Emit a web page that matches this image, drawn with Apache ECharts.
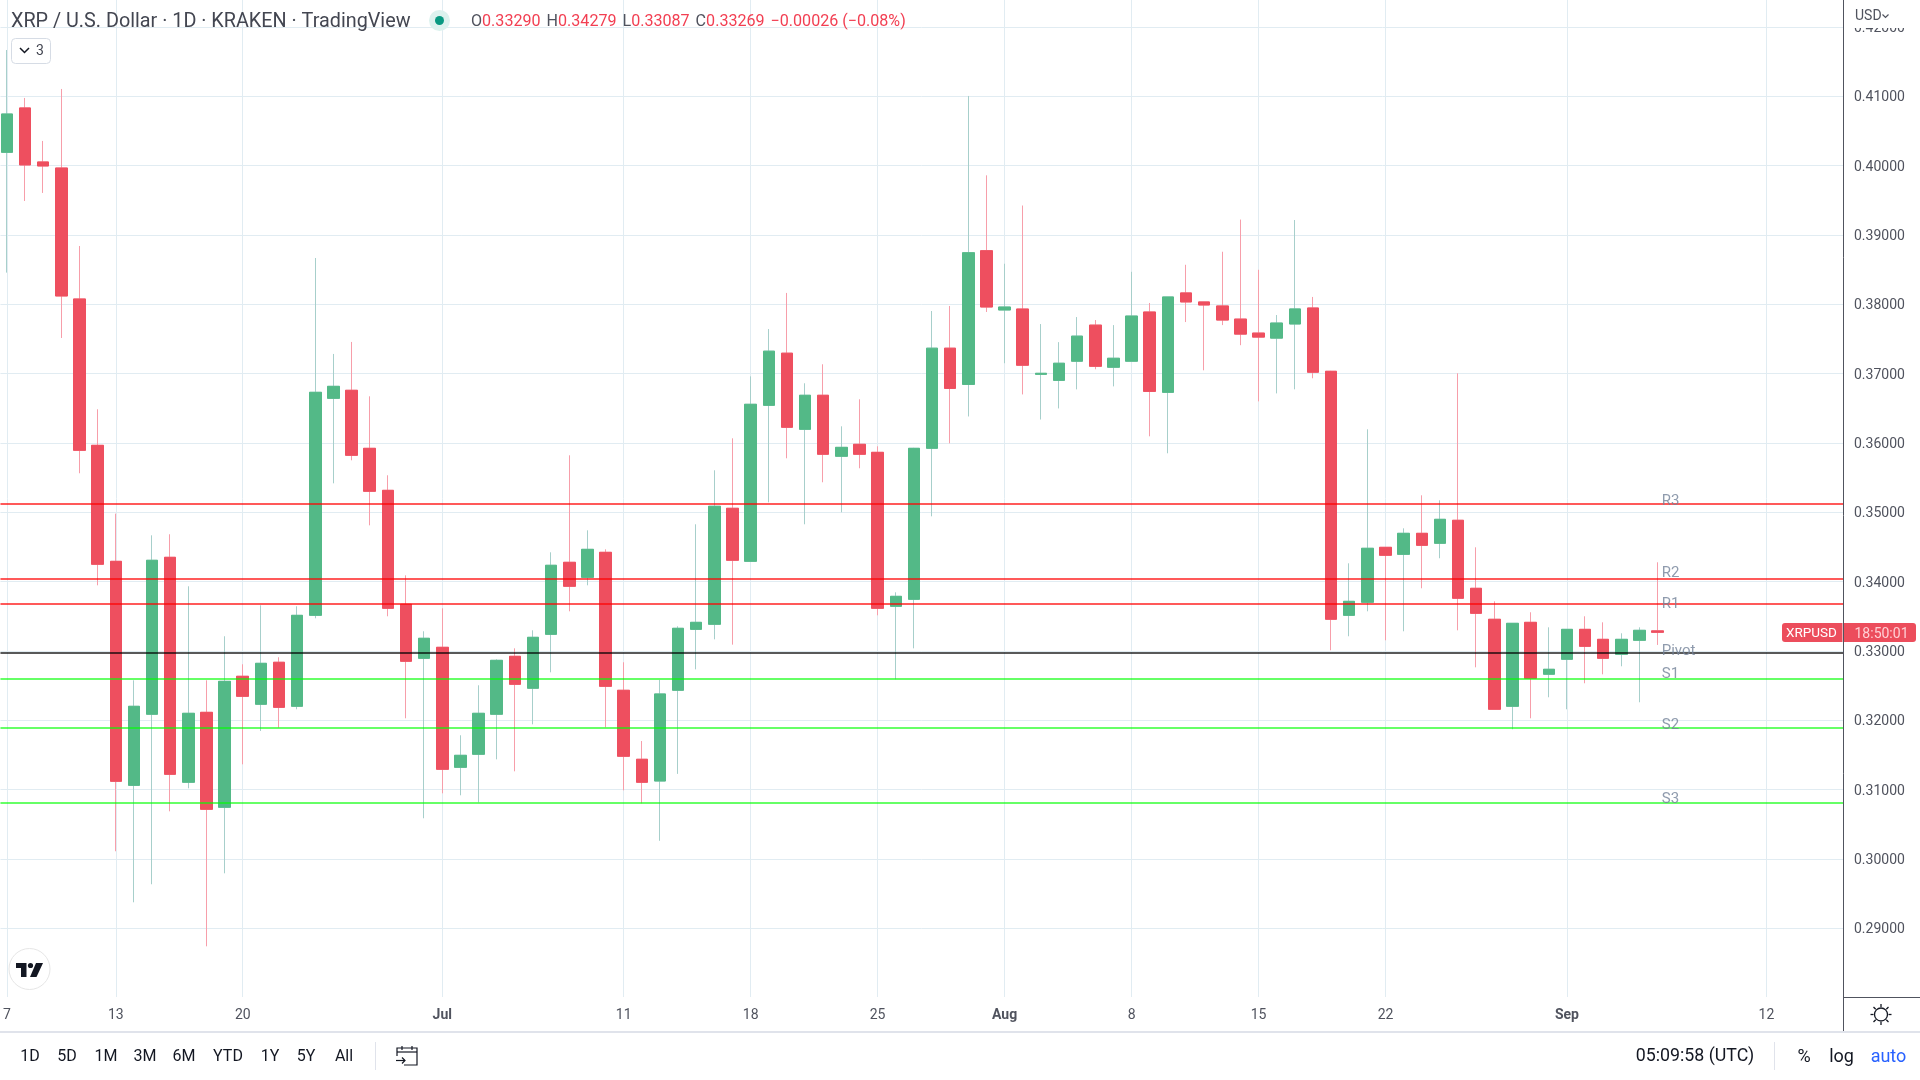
<!DOCTYPE html>
<html>
<head>
<meta charset="UTF-8">
<title>XRP / U.S. Dollar</title>
<script src="https://cdn.jsdelivr.net/npm/echarts@6/dist/echarts.min.js"></script>
<style>
  html, body { margin: 0; padding: 0; background: #fff; }
  #chart { width: 1920px; height: 1080px; }
</style>
</head>
<body>
<div id="chart"></div>
<script>
// daily candles, first one is 7 Jun, one per calendar day
var opens = [0.40192,0.40832,0.40053,0.39966,0.38077,0.35966,0.34293,0.31062,0.32087,0.34351,0.31106,0.32115,0.30745,
  0.32635,0.32231,0.32837,0.32202,0.33514,0.36644,0.3676,0.35923,0.35317,0.33673,0.32894,0.33053,0.31322,0.3151,
  0.32087,0.32923,0.32462,0.3324,0.34279,0.34062,0.34423,0.32433,0.31438,0.31124,0.32433,0.33312,0.33385,0.35058,
  0.34293,0.36543,0.37295,0.36197,0.36688,0.35808,0.35981,0.35865,0.33644,0.33745,0.35923,0.37367,0.36845,0.38773,
  0.37918,0.37932,0.3699,0.36903,0.37179,0.377,0.37092,0.37179,0.37889,0.3673,0.38164,0.38034,0.37976,0.37787,
  0.37585,0.37512,0.37716,0.37947,0.37034,0.33514,0.33702,0.34495,0.34394,0.34697,0.34553,0.34885,0.33904,0.33457,
  0.32202,0.33413,0.32664,0.3288,0.33312,0.33168,0.32952,0.33154,0.3329];
var closes = [0.40745,0.4001,0.39995,0.3812,0.35894,0.3425,0.3112,0.32202,0.34308,0.31221,0.32101,0.30716,0.32562,
  0.32346,0.32822,0.32187,0.33514,0.36731,0.36817,0.35822,0.35303,0.33615,0.32851,0.33183,0.31293,0.31495,0.32101,
  0.32865,0.32519,0.33197,0.34236,0.33933,0.34466,0.3249,0.31481,0.31106,0.3238,0.33327,0.33413,0.35087,0.34308,
  0.36558,0.37324,0.36226,0.36688,0.35837,0.35937,0.35837,0.33615,0.33788,0.35923,0.37367,0.36787,0.38744,0.37961,
  0.37961,0.37121,0.37005,0.3715,0.37541,0.37106,0.37222,0.37831,0.36744,0.38106,0.38034,0.3799,0.37773,0.3757,
  0.37527,0.3773,0.37933,0.3702,0.33457,0.33716,0.34481,0.3438,0.34697,0.34524,0.34899,0.3376,0.33543,0.32159,
  0.33399,0.32606,0.32736,0.33312,0.33067,0.32894,0.33168,0.33298,0.33269];
var lows = [0.38457,0.3949,0.39606,0.37514,0.35563,0.33947,0.30111,0.29375,0.29635,0.30687,0.31019,0.2874,0.29793,
  0.31365,0.31846,0.31894,0.32159,0.33471,0.35418,0.3575,0.34812,0.335,0.32029,0.30587,0.30947,0.30918,0.30817,
  0.31437,0.31264,0.31942,0.32692,0.33572,0.33947,0.31899,0.3099,0.30801,0.30262,0.31227,0.32735,0.33168,0.33091,
  0.34293,0.35144,0.35779,0.34827,0.35433,0.35,0.35635,0.33514,0.32591,0.33038,0.34942,0.35995,0.36382,0.37889,
  0.3715,0.367,0.36338,0.36498,0.36773,0.37063,0.36816,0.37179,0.36096,0.35851,0.37744,0.37048,0.377,0.3741,
  0.366,0.36715,0.36774,0.36933,0.3301,0.33212,0.33572,0.33154,0.33284,0.33904,0.34337,0.33298,0.32764,0.32159,
  0.3187,0.32029,0.32332,0.32159,0.32534,0.32663,0.32779,0.3226,0.33087];
var highs = [0.41668,0.40976,0.40356,0.41106,0.38841,0.36486,0.34981,0.32577,0.34668,0.34683,0.33933,0.32577,0.33212,
  0.32808,0.33659,0.32909,0.33644,0.38668,0.37284,0.37457,0.36673,0.35534,0.34091,0.33284,0.33615,0.31784,0.32505,
  0.3288,0.33038,0.33298,0.34423,0.35822,0.3474,0.34466,0.32837,0.31701,0.32582,0.33356,0.34827,0.35606,0.36067,
  0.36961,0.37643,0.38164,0.36861,0.37135,0.3624,0.3663,0.35952,0.33846,0.3593,0.37903,0.37976,0.41005,0.3986,
  0.38585,0.39425,0.37715,0.37454,0.37816,0.37773,0.377,0.38469,0.38019,0.38106,0.3857,0.38034,0.38758,0.39222,
  0.38498,0.37845,0.39216,0.38106,0.3704,0.34264,0.36197,0.34495,0.34769,0.35245,0.35173,0.37005,0.34495,0.33716,
  0.33399,0.33558,0.33341,0.33312,0.335,0.33413,0.33255,0.33341,0.34279];

// time axis ticks: days since 7 Jun
var tickDays = [0,6,13,24,34,41,48,55,62,69,76,86,97];
var tickLabels = ['7','13','20','Jul','11','18','25','Aug','8','15','22','Sep','12'];
var monthLabels = ['Jul','Aug','Sep'];

var priceTicks = [0.29,0.30,0.31,0.32,0.33,0.34,0.35,0.36,0.37,0.38,0.39,0.40,0.41,0.42];

// pivot lines
var resistance = [0.35119,0.34038,0.33677];
var pivot = [0.3297];
var support = [0.32595,0.31888,0.30807];
var pivotNames = ['R3','R2','R1','Pivot','S1','S2','S3'];
var pivotNamePrices = [0.35153,0.34124,0.33677,0.32999,0.32667,0.31931,0.30864];
var pivotNameDay = 91.2;

var rangeButtons = ['1D','5D','1M','3M','6M','YTD','1Y','5Y','All'];
var rangeButtonX = [30,67,106,145,184,228,270,306,344];

var FONT = 'Roboto';
var UP = '#53b987', DOWN = '#ee4f5f';
var UP_WICK = '#a7cfcb', DOWN_WICK = '#f79eaa';
var GRID = '#e1ecf2', AXIS = '#50535e', TEXT = '#50535e';

function lines(values, color) {
  return {
    symbol: 'none', silent: true, animation: false, precision: 5,
    label: { show: false },
    lineStyle: { color: color, width: 2, type: 'solid' },
    data: values.map(function (v) { return { yAxis: v }; })
  };
}

function txt(x, y, str, size, color, align, weight) {
  return {
    type: 'text', z: 100, x: x, y: y, silent: true,
    style: {
      text: str, fontFamily: FONT, fontSize: size, fill: color,
      align: align || 'center', verticalAlign: 'middle', fontWeight: weight || 'normal'
    }
  };
}
function rect(x, y, w, h, fill, r, stroke) {
  return {
    type: 'rect', z: 99, silent: true,
    shape: { x: x, y: y, width: w, height: h, r: r || 0 },
    style: { fill: fill, stroke: stroke || null }
  };
}
function seg(x1, y1, x2, y2, color, width) {
  return {
    type: 'line', z: 99, silent: true,
    shape: { x1: x1, y1: y1, x2: x2, y2: y2 },
    style: { stroke: color, lineWidth: width || 1 }
  };
}
function poly(points, fill) {
  return { type: 'polygon', z: 101, silent: true, shape: { points: points }, style: { fill: fill } };
}
function polyline(points, color, width) {
  return { type: 'polyline', z: 101, silent: true, shape: { points: points }, style: { stroke: color, lineWidth: width || 1.5, fill: null } };
}

var graphics = [
  // price scale frame
  rect(1844, 0, 76, 28, '#ffffff'),
  seg(1843.5, 0, 1843.5, 1031, AXIS),
  seg(1843, 997.5, 1920, 997.5, AXIS),
  seg(0, 1032, 1920, 1032, '#e0e3eb', 2),
  txt(1855, 16, 'USD', 14, TEXT, 'left'),
  polyline([[1882.5, 14.5], [1885.5, 17.5], [1888.5, 14.5]], TEXT, 1.2),

  // header
  txt(11, 22, 'XRP / U.S. Dollar · 1D · KRAKEN · TradingView', 19.8, '#434651', 'left'),
  { type: 'circle', z: 99, silent: true, shape: { cx: 439.5, cy: 20.5, r: 10.5 }, style: { fill: '#dcf2ee' } },
  { type: 'circle', z: 100, silent: true, shape: { cx: 439.5, cy: 20.5, r: 4.5 }, style: { fill: '#089981' } },
  {
    type: 'text', z: 100, x: 471, y: 22, silent: true,
    style: {
      text: '{k|O}{v|0.33290}  {k|H}{v|0.34279}  {k|L}{v|0.33087}  {k|C}{v|0.33269}  {v|−0.00026 (−0.08%)}',
      verticalAlign: 'middle', fontFamily: FONT,
      rich: {
        k: { fill: '#50535e', fontSize: 16.1, fontFamily: FONT },
        v: { fill: '#f23f52', fontSize: 16.1, fontFamily: FONT }
      }
    }
  },
  rect(11.5, 38.5, 39, 25, '#ffffff', 4, '#d6dce5'),
  polyline([[20, 48], [24.5, 52.5], [29, 48]], '#131722', 1.5),
  txt(40, 51, '3', 14, '#434651'),

  // logo
  { type: 'circle', z: 99, silent: true, shape: { cx: 29.5, cy: 969, r: 20.5 }, style: { fill: '#ffffff', stroke: '#e6e6e6', lineWidth: 1 } },
  poly([[16, 963], [26.5, 963], [26.5, 977], [21, 977], [21, 968], [16, 968]], '#131722'),
  { type: 'circle', z: 101, silent: true, shape: { cx: 30.5, cy: 965.5, r: 2.6 }, style: { fill: '#131722' } },
  poly([[36, 963], [43, 963], [36.5, 977], [30, 977]], '#131722'),

  // last price tag
  rect(1782, 623, 60.5, 19, '#ec4d5c', [3, 0, 0, 3]),
  rect(1844, 623, 72, 19, '#ec4d5c', [0, 3, 3, 0]),
  txt(1811.5, 634, 'XRPUSD', 13.5, '#ffffff'),
  txt(1881.5, 634, '18:50:01', 14, '#ffd0d5'),

  // settings icon
  { type: 'circle', z: 100, silent: true, shape: { cx: 1881, cy: 1014.5, r: 6.5 }, style: { fill: null, stroke: '#131722', lineWidth: 1.3 } },
  seg(1881, 1004, 1881, 1007, '#131722', 1.3), seg(1881, 1022, 1881, 1025, '#131722', 1.3),
  seg(1870.5, 1014.5, 1873.5, 1014.5, '#131722', 1.3), seg(1888.5, 1014.5, 1891.5, 1014.5, '#131722', 1.3),
  seg(1873.5, 1007, 1875.7, 1009.2, '#131722', 1.3), seg(1886.3, 1019.8, 1888.5, 1022, '#131722', 1.3),
  seg(1888.5, 1007, 1886.3, 1009.2, '#131722', 1.3), seg(1875.7, 1019.8, 1873.5, 1022, '#131722', 1.3),

  // bottom toolbar
  seg(375.5, 1042, 375.5, 1070, '#e0e3eb'),
  seg(1774.5, 1042, 1774.5, 1070, '#e0e3eb'),
  polyline([[397, 1056], [397, 1048], [417, 1048], [417, 1065], [404, 1065]], '#131722', 1.2),
  seg(397, 1052, 417, 1052, '#131722', 1.2),
  seg(402, 1046, 402, 1050, '#131722', 1.2), seg(412, 1046, 412, 1050, '#131722', 1.2),
  polyline([[396, 1060.5], [405, 1060.5]], '#131722', 1.2),
  polyline([[402, 1057.5], [405, 1060.5], [402, 1063.5]], '#131722', 1.2),
  txt(1695, 1057, '05:09:58 (UTC)', 17.8, '#131722'),
  txt(1804, 1057, '%', 18, '#131722'),
  txt(1841.5, 1057, 'log', 18, '#131722'),
  txt(1888.5, 1057, 'auto', 18, '#2962ff')
];
rangeButtons.forEach(function (b, i) {
  graphics.push(txt(rangeButtonX[i], 1057, b, 16, '#131722'));
});

var wickData = opens.map(function (o, i) { return [i, o, closes[i], lows[i], highs[i]]; });
var bodyData = opens.map(function (o, i) {
  return [i, o, closes[i], Math.min(o, closes[i]), Math.max(o, closes[i])];
});
var nameData = pivotNamePrices.map(function (p) { return [pivotNameDay, p]; });

var chart = echarts.init(document.getElementById('chart'), null, { renderer: 'canvas' });
chart.setOption({
  animation: false,
  backgroundColor: '#ffffff',
  textStyle: { fontFamily: FONT },
  grid: { left: 0, top: 0, width: 1843, height: 997 },
  xAxis: {
    type: 'value',
    min: -0.358, max: 101.22,
    axisLine: { show: false },
    axisTick: { show: false, customValues: tickDays },
    splitLine: { show: true, lineStyle: { color: GRID, width: 1 } },
    axisLabel: {
      customValues: tickDays, margin: 11, fontSize: 14, color: TEXT, fontFamily: FONT,
      formatter: function (v) {
        var label = tickLabels[tickDays.indexOf(v)];
        return monthLabels.indexOf(label) >= 0 ? '{m|' + label + '}' : label;
      },
      rich: { m: { fontWeight: 'bold', fontSize: 14, color: TEXT, fontFamily: FONT } }
    }
  },
  yAxis: {
    type: 'value', position: 'right', scale: true,
    min: 0.28009, max: 0.42389,
    axisLine: { show: false },
    axisTick: { show: false, customValues: priceTicks },
    splitLine: { show: true, lineStyle: { color: GRID, width: 1 } },
    axisLabel: {
      customValues: priceTicks, margin: 11,
      formatter: function (v) { return '{p|' + v.toFixed(5) + '}'; },
      rich: { p: { fontSize: 14, color: TEXT, fontFamily: FONT, padding: [3, 0, 0, 0] } }
    }
  },
  graphic: graphics,
  series: [
    {
      // wicks in the pale colour, bodies go on top
      type: 'candlestick', data: wickData, barWidth: 12, z: 2, silent: true,
      itemStyle: { color: 'transparent', color0: 'transparent', borderColor: UP_WICK, borderColor0: DOWN_WICK, borderWidth: 1 }
    },
    {
      type: 'candlestick', data: bodyData, barWidth: 12, z: 3, silent: true,
      itemStyle: { color: UP, color0: DOWN, borderColor: UP, borderColor0: DOWN, borderWidth: 1 },
      markLine: lines(resistance, 'rgba(255,0,0,0.65)')
    },
    {
      type: 'line', data: [], z: 4, silent: true,
      markLine: lines(support, 'rgba(0,255,0,0.6)')
    },
    {
      type: 'line', data: [], z: 4, silent: true,
      markLine: lines(pivot, 'rgba(0,0,0,0.65)')
    },
    {
      type: 'scatter', data: nameData, symbolSize: 1, z: 6, silent: true,
      itemStyle: { color: 'transparent' },
      label: {
        show: true, position: 'right', distance: 0, fontSize: 15, color: '#738299', fontFamily: FONT,
        formatter: function (p) { return pivotNames[p.dataIndex]; }
      }
    }
  ]
});
</script>
</body>
</html>
